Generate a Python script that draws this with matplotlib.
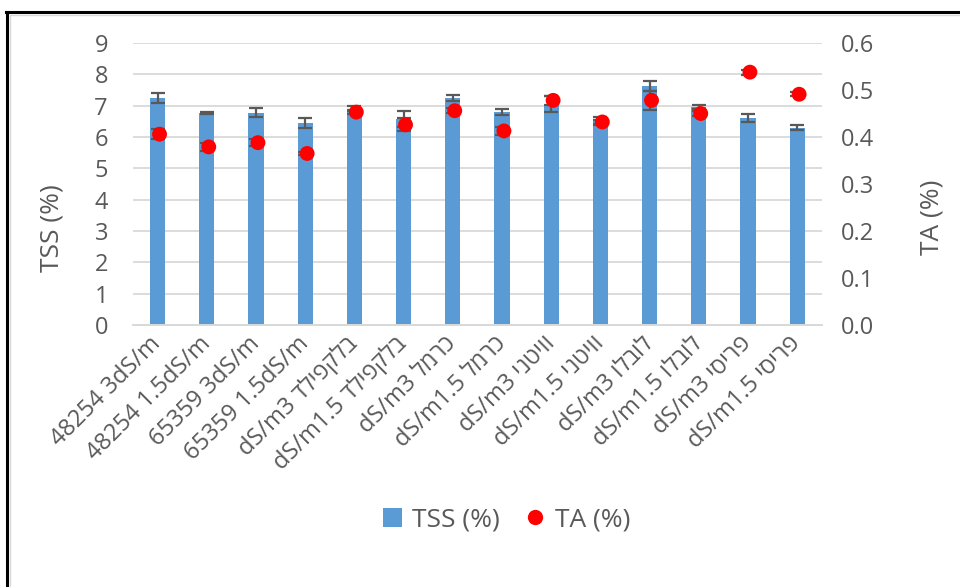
import matplotlib
matplotlib.use("Agg")
import matplotlib.pyplot as plt
import numpy as np
from matplotlib.lines import Line2D
from matplotlib.patches import Patch

plt.rcParams['font.family'] = ['Open Sans', 'DejaVu Sans']

# ---------------------------------------------------------------- data
varieties = ["48254", "48254", "65359", "65359",
             "בלקפילד", "בלקפילד", "כרמל", "כרמל",
             "וויטני", "וויטני", "לובלו", "לובלו", "פריסי", "פריסי"]
salinity = ["3", "1.5"] * 7

tss     = [7.25, 6.78, 6.78, 6.45, 6.90, 6.58, 7.25,
           6.80, 7.05, 6.52, 7.63, 6.95, 6.60, 6.30]
tss_err = [0.17, 0.03, 0.15, 0.17, 0.08, 0.25, 0.10,
           0.10, 0.25, 0.13, 0.15, 0.07, 0.13, 0.09]
ta      = [0.406, 0.379, 0.388, 0.365, 0.453, 0.426, 0.456,
           0.413, 0.478, 0.432, 0.478, 0.450, 0.538, 0.491]
ta_err  = [0.011, 0.008, 0.008, 0.004, 0.005, 0.014, 0.005,
           0.009, 0.010, 0.005, 0.020, 0.005, 0.005, 0.004]

# ---------------------------------------------------------------- labels
def make_label(name, s):
    # matplotlib has no bidi, so build the label in visual order
    if name.isdigit():
        return "%s %sdS/m" % (name, s)
    return "dS/m%s %s" % (s, name[::-1])

labels = [make_label(n, s) for n, s in zip(varieties, salinity)]

BLUE = '#5B9BD5'
GREY = '#595959'
GRID = '#D9D9D9'

fig = plt.figure(figsize=(9.6, 5.87), dpi=100)
ax = fig.add_axes([0.1385, 0.4463, 0.7175, 0.4804])
ax2 = ax.twinx()

x = np.arange(len(tss))
ax.bar(x, tss, width=0.31, color=BLUE, zorder=2)
ax.errorbar(x, tss, yerr=tss_err, fmt='none', ecolor=GREY,
            elinewidth=1.6, capsize=5, capthick=1.6, zorder=3)

ax2.errorbar(x, ta, yerr=ta_err, fmt='none', ecolor=GREY,
             elinewidth=1.6, capsize=5, capthick=1.6, zorder=3)
ax2.scatter(x + 0.04, ta, s=115, color='#FF0000', edgecolors='none', zorder=4)

ax.set_xlim(-0.5, len(tss) - 0.5)
ax.set_ylim(0, 9)
ax.set_yticks(range(0, 10))
ax2.set_ylim(0, 0.6)
ax2.set_yticks(np.arange(0, 0.61, 0.1))
ax2.set_yticklabels(["%.1f" % v for v in np.arange(0, 0.61, 0.1)])

ax.yaxis.grid(True, color=GRID, linewidth=1.3, zorder=0)
ax.set_axisbelow(True)

for a in (ax, ax2):
    for side in ('top', 'left', 'right'):
        a.spines[side].set_visible(False)
    a.spines['bottom'].set_color(GRID)
    a.spines['bottom'].set_linewidth(1.3)
    a.tick_params(length=0, labelsize=17, labelcolor=GREY)

ax.tick_params(axis='y', pad=18)
ax2.tick_params(axis='y', pad=14)

ax.set_xticks(x)
ax.set_xticklabels(labels, rotation=45, ha='right', va='center',
                   rotation_mode='anchor', fontsize=17, color=GREY)
ax.tick_params(axis='x', pad=11)

fig.text(0.054, 0.611, "TSS (%)", rotation=90, ha='center', va='center',
         fontsize=19, color=GREY)
fig.text(0.971, 0.629, "TA (%)", rotation=90, ha='center', va='center',
         fontsize=19, color=GREY)

handles = [Patch(facecolor=BLUE, edgecolor='none'),
           Line2D([], [], marker='o', linestyle='none', markersize=11,
                  markerfacecolor='#FF0000', markeredgecolor='none')]
leg = fig.legend(handles, ["TSS (%)", "TA (%)"], loc='center',
                 bbox_to_anchor=(0.528, 0.114), ncol=2, frameon=False,
                 fontsize=19, handlelength=0.7, handleheight=0.7,
                 handletextpad=0.4, columnspacing=1.0)
for t in leg.get_texts():
    t.set_color(GREY)

# chart border (image is cropped on the right and bottom)
fig.add_artist(Line2D([0.0073, 0.0073], [0.0, 0.980], color='black',
                      linewidth=2.2, transform=fig.transFigure))
fig.add_artist(Line2D([0.0062, 1.0], [0.979, 0.979], color='black',
                      linewidth=2.2, transform=fig.transFigure))
fig.add_artist(Line2D([0.0105, 0.0105], [0.0, 0.975], color=GRID,
                      linewidth=1.0, transform=fig.transFigure))
fig.add_artist(Line2D([0.0105, 1.0], [0.974, 0.974], color=GRID,
                      linewidth=1.0, transform=fig.transFigure))

fig.savefig("out.png", dpi=100)
